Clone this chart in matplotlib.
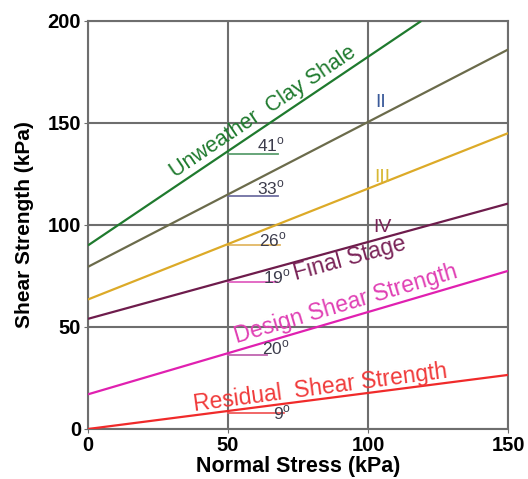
import matplotlib
matplotlib.use("Agg")
from matplotlib import pyplot as plt

plt.rcParams['font.family'] = ['Liberation Sans', 'DejaVu Sans']
plt.rcParams['mathtext.fontset'] = 'custom'
plt.rcParams['mathtext.rm'] = 'Liberation Sans'

# envelope lines: normal stress (kPa) at ends, shear strength (kPa) at ends
line_names = ["Unweather  Clay Shale", "II", "III", "IV", "Design Shear Strength", "Residual Shear Strength"]
line_x = [[0, 119], [0, 150], [0, 150], [0, 150], [0, 150], [0, 150]]
line_y = [[90, 200], [79.5, 186], [63.5, 145], [54, 110.5], [17, 77.5], [0, 26.5]]
line_colors = ["#1f7a2e", "#6b6b4b", "#dcaa28", "#6e1c4c", "#e020b0", "#f02a2a"]

# friction angle markers at x = 50
angle_labels = ["41", "33", "26", "19", "20", "9"]
angle_y = [135, 114, 90, 72, 36.5, 8]
angle_x_end = [68, 68, 68.5, 67.5, 64, 70]
angle_colors = ["#5a9e6e", "#6f6fa3", "#e2b765", "#e060c0", "#c064b0", "#f05a5a"]
angle_text_x = [60.5, 60.5, 61, 62.5, 62, 66]
angle_text_y = [139, 118, 92.5, 74.5, 39.5, 7.8]

fig = plt.figure(figsize=(5.28, 4.79), dpi=100)
ax = fig.add_axes([0.1667, 0.1044, 0.7955, 0.8518])

for xs, ys, c in zip(line_x, line_y, line_colors):
    ax.plot(xs, ys, color=c, lw=1.6, zorder=3, solid_capstyle='butt')

for lab, y, xe, c, tx, ty in zip(angle_labels, angle_y, angle_x_end, angle_colors, angle_text_x, angle_text_y):
    ax.plot([50, xe], [y, y], color=c, lw=1.3, zorder=2)
    ax.text(tx, ty, lab + r"$^{\mathrm{o}}$", fontsize=12.5, color="#3c3c4c",
            ha='left', va='center', zorder=4)

# line names along the lines
ax.text(62.5, 155.5, "Unweather  Clay Shale", color="#1f7a2e", fontsize=15.5,
        rotation=34, ha='center', va='center', rotation_mode='anchor')
ax.text(104.5, 160, "II", color="#3a5a9a", fontsize=14, ha='center', va='center')
ax.text(105, 123.5, "III", color="#d8b834", fontsize=14, ha='center', va='center')
ax.text(105, 99, "IV", color="#7a2458", fontsize=14, ha='center', va='center')
ax.text(93.5, 83.5, "Final Stage", color="#7a2458", fontsize=16.5,
        rotation=15.5, ha='center', va='center', rotation_mode='anchor')
ax.text(92, 61, "Design Shear Strength", color="#e040b4", fontsize=16.5,
        rotation=16.5, ha='center', va='center', rotation_mode='anchor')
ax.text(83, 20, "Residual  Shear Strength", color="#f03a3a", fontsize=16.5,
        rotation=7.5, ha='center', va='center', rotation_mode='anchor')

ax.set_xlim(0, 150)
ax.set_ylim(0, 200)
ax.set_xticks([0, 50, 100, 150])
ax.set_yticks([0, 50, 100, 150, 200])
ax.grid(True, color="#6e6e6e", lw=1.5)
ax.set_axisbelow(True)
for s in ax.spines.values():
    s.set_color("#6e6e6e")
    s.set_linewidth(1.5)
ax.tick_params(length=3, color="#6e6e6e", labelsize=14.5, pad=2)
for t in ax.get_xticklabels() + ax.get_yticklabels():
    t.set_fontweight('bold')

ax.set_xlabel("Normal Stress (kPa)", fontsize=15.5, fontweight='bold', labelpad=1)
ax.set_ylabel("Shear Strength (kPa)", fontsize=15, fontweight='bold', labelpad=10)

fig.savefig("out.png", dpi=100)
